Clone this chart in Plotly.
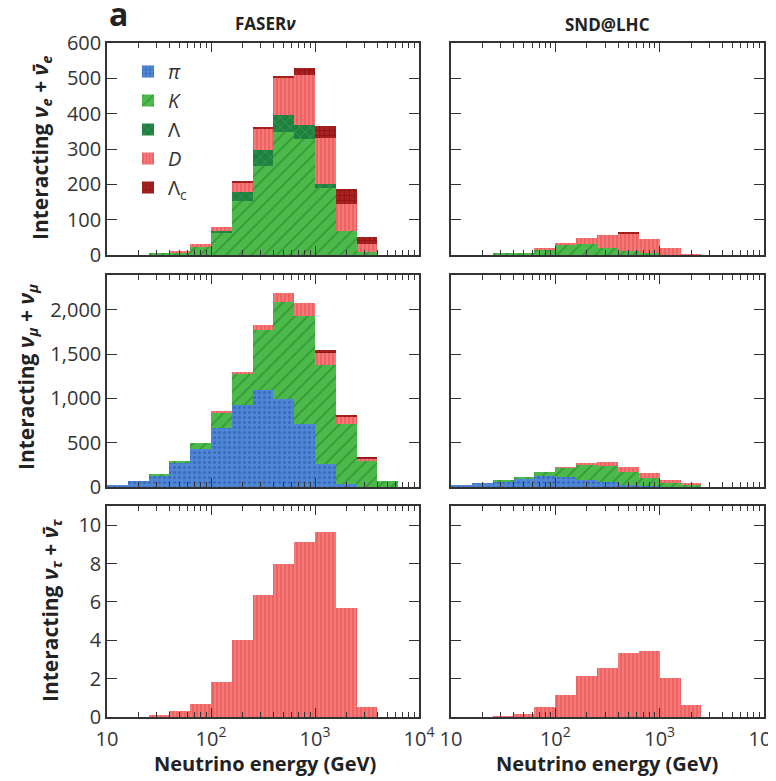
import plotly.graph_objects as go

# ---------------- data ----------------
energy_edges = [10, 15.85, 25.12, 39.81, 63.10, 100, 158.5, 251.2, 398.1, 631.0,
                1000, 1585, 2512, 3981, 6310, 10000]

# FASERnu, nu_e + nubar_e (per-bin counts of each parent)
faser_e_pi = [0, 0, 0, 0, 0, 0, 0, 0, 0, 0, 0, 0, 0, 0, 0]
faser_e_K = [0, 0, 3, 8, 24, 62, 153, 252, 349, 328, 190, 69, 9, 0, 0]
faser_e_L = [0, 0, 0, 0, 0, 6, 26, 46, 47, 40, 11, 0, 0, 0, 0]
faser_e_D = [0, 0, 0, 2, 6, 12, 27, 60, 104, 142, 131, 75, 21, 0, 0]
faser_e_Lc = [0, 0, 0, 0, 0, 0, 1, 2, 6, 20, 33, 43, 20, 0, 0]

# FASERnu, nu_mu + nubar_mu
faser_mu_pi = [26, 72, 132, 272, 434, 672, 928, 1091, 989, 709, 260, 38, 0, 0, 0]
faser_mu_K = [0, 0, 8, 11, 64, 169, 347, 683, 1098, 1223, 1117, 679, 302, 64, 0]
faser_mu_L = [0, 0, 0, 0, 0, 0, 0, 0, 0, 0, 0, 0, 0, 0, 0]
faser_mu_D = [0, 0, 0, 0, 0, 12, 27, 52, 109, 147, 140, 83, 16, 0, 0]
faser_mu_Lc = [0, 0, 0, 0, 0, 0, 0, 0, 0, 0, 26, 19, 16, 0, 0]

# FASERnu, nu_tau + nubar_tau
faser_tau_D = [0, 0, 0.07, 0.29, 0.69, 1.82, 4.02, 6.38, 7.97, 9.13, 9.64, 5.67, 0.5, 0, 0]

# SND@LHC, nu_e + nubar_e
snd_e_pi = [0, 0, 0, 0, 0, 0, 0, 0, 0, 0, 0, 0, 0, 0, 0]
snd_e_K = [0, 0, 3, 6, 16, 30, 30, 20, 12, 5, 0, 0, 0, 0, 0]
snd_e_L = [0, 0, 0, 0, 0, 0, 0, 0, 0, 0, 0, 0, 0, 0, 0]
snd_e_D = [0, 0, 0, 0, 3, 4, 18, 38, 50, 41, 21, 2, 0, 0, 0]
snd_e_Lc = [0, 0, 0, 0, 0, 0, 0, 0, 1, 0, 0, 0, 0, 0, 0]

# SND@LHC, nu_mu + nubar_mu
snd_mu_pi = [13, 40, 62, 95, 125, 110, 80, 52, 25, 15, 3, 0, 0, 0, 0]
snd_mu_K = [0, 0, 12, 20, 49, 110, 170, 188, 147, 90, 53, 30, 0, 0, 0]
snd_mu_L = [0, 0, 0, 0, 0, 0, 0, 0, 0, 0, 0, 0, 0, 0, 0]
snd_mu_D = [0, 0, 0, 0, 0, 4, 25, 40, 53, 53, 19, 8, 0, 0, 0]
snd_mu_Lc = [0, 0, 0, 0, 0, 0, 0, 0, 0, 0, 0, 0, 0, 0, 0]

# SND@LHC, nu_tau + nubar_tau
snd_tau_D = [0, 0, 0.03, 0.17, 0.5, 1.16, 2.15, 2.53, 3.34, 3.45, 2.03, 0.61, 0, 0, 0]

species_names = ["<i>π</i>", "<i>K</i>", "Λ", "<i>D</i>", "Λ<sub>c</sub>"]

x_tickvals = [10, 100, 1000, 10000]
x_ticktext = ["10", "10<sup>2</sup>", "10<sup>3</sup>", "10<sup>4</sup>"]
x_minor = [20, 30, 40, 50, 60, 70, 80, 90, 200, 300, 400, 500, 600, 700, 800, 900,
           2000, 3000, 4000, 5000, 6000, 7000, 8000, 9000]

row_yticks = [[0, 100, 200, 300, 400, 500, 600],
              [0, 500, 1000, 1500, 2000],
              [0, 2, 4, 6, 8, 10]]
row_yticktext = [["0", "100", "200", "300", "400", "500", "600"],
                 ["0", "500", "1,000", "1,500", "2,000"],
                 ["0", "2", "4", "6", "8", "10"]]
row_yrange = [[0, 600], [0, 2395], [0, 11.0]]

# ---------------- styles ----------------
FONT = "Open Sans"
AX = "#333333"
styles = [
    dict(color="#4f86d6", fg="#1f4fa0", shape=".", size=5, sol=0.3),    # pi
    dict(color="#4cba4a", fg="#1f6f25", shape="/", size=9, sol=0.18),   # K
    dict(color="#1f8040", fg="#5cbf6a", shape="x", size=7, sol=0.18),   # Lambda
    dict(color="#f47a7a", fg="#e52a32", shape="|", size=4, sol=0.3),    # D
    dict(color="#a82020", fg="#6e0a0c", shape="+", size=5, sol=0.3),    # Lambda_c
]

lefts = energy_edges[:-1]
widths = [energy_edges[i + 1] - energy_edges[i] for i in range(len(lefts))]

fig = go.Figure()

panels = [
    (1, [faser_e_pi, faser_e_K, faser_e_L, faser_e_D, faser_e_Lc], True),
    (2, [snd_e_pi, snd_e_K, snd_e_L, snd_e_D, snd_e_Lc], False),
    (3, [faser_mu_pi, faser_mu_K, faser_mu_L, faser_mu_D, faser_mu_Lc], False),
    (4, [snd_mu_pi, snd_mu_K, snd_mu_L, snd_mu_D, snd_mu_Lc], False),
    (5, [None, None, None, faser_tau_D, None], False),
    (6, [None, None, None, snd_tau_D, None], False),
]

for idx, series, legend in panels:
    for s, vals in enumerate(series):
        if vals is None:
            continue
        st = styles[s]
        fig.add_trace(go.Bar(
            x=lefts, y=vals, width=widths, offset=0,
            name=species_names[s], showlegend=legend, legendgroup=species_names[s],
            xaxis="x" if idx == 1 else f"x{idx}", yaxis="y" if idx == 1 else f"y{idx}",
            marker=dict(color=st["color"], line=dict(width=0),
                        pattern=dict(shape=st["shape"], fgcolor=st["fg"], bgcolor=st["color"],
                                     size=st["size"], solidity=st["sol"])),
        ))

# page body has an 8 px margin: draw a 768x773 figure so it fills the 776x781 window
OFF = 8
W, H = 768, 773
def px(X):
    return (X - OFF) / W
def py(Y):
    return 1 - (Y - OFF) / H

xdom = [[px(107), px(419)], [px(451), px(764)]]
ydom = [[py(255), py(43)], [py(487), py(275)], [py(717), py(506)]]

layout = dict(
    width=W, height=H, margin=dict(l=0, r=0, t=0, b=0, autoexpand=False),
    paper_bgcolor="white", plot_bgcolor="white",
    barmode="stack", bargap=0,
    font=dict(family=FONT, color=AX, size=20),
    legend=dict(x=px(128), y=py(52), xanchor="left", yanchor="top",
                bgcolor="rgba(0,0,0,0)", traceorder="normal",
                font=dict(size=20, family=FONT, color=AX), itemwidth=30),
)

for r in range(3):
    for c in range(2):
        idx = r * 2 + c + 1
        xk = "xaxis" if idx == 1 else f"xaxis{idx}"
        yk = "yaxis" if idx == 1 else f"yaxis{idx}"
        layout[xk] = dict(
            type="log", range=[1, 4], domain=xdom[c], automargin=False,
            anchor="y" if idx == 1 else f"y{idx}",
            showline=True, linecolor=AX, linewidth=1.5, mirror="ticks",
            ticks="inside", ticklen=9, tickwidth=1.3, tickcolor=AX,
            tickmode="array", tickvals=x_tickvals, ticktext=x_ticktext,
            showticklabels=(r == 2), tickfont=dict(size=20, family=FONT, color=AX),
            ticklabelstandoff=3, ticklabeloverflow="allow",
            showgrid=False, zeroline=False,
            minor=dict(tickmode="array", tickvals=x_minor, ticks="inside",
                       ticklen=5, tickwidth=1.2, tickcolor=AX, showgrid=False),
        )
        layout[yk] = dict(
            range=row_yrange[r], domain=ydom[r], automargin=False,
            anchor="x" if idx == 1 else f"x{idx}",
            showline=True, linecolor=AX, linewidth=1.5, mirror="ticks",
            ticks="inside", ticklen=10, tickwidth=1.3, tickcolor=AX,
            tickmode="array", tickvals=row_yticks[r], ticktext=row_yticktext[r],
            showticklabels=(c == 0), tickfont=dict(size=20, family=FONT, color=AX),
            ticklabelstandoff=0, ticklabeloverflow="allow",
            showgrid=False, zeroline=False,
        )

fig.update_layout(**layout)

ann = []
def add_ann(text, x, y, size, angle=0):
    ann.append(dict(text=text, x=px(x), y=py(y), xref="paper", yref="paper",
                    showarrow=False, xanchor="center", yanchor="middle", textangle=angle,
                    font=dict(size=size, family=FONT, color="#222222")))

add_ann("<b>a</b>", 118, 14, 32)
add_ann("<b>FASER<i>ν</i></b>", 265, 23, 17)
add_ann("<b>SND@LHC</b>", 607, 24, 17)
add_ann("<b>Neutrino energy (GeV)</b>", 265, 763, 20)
add_ann("<b>Neutrino energy (GeV)</b>", 607, 763, 20)
add_ann("<b>Interacting <i>ν</i><sub><i>e</i></sub> + <i>ν̄</i><sub><i>e</i></sub></b>", 41, 148, 21, -90)
add_ann("<b>Interacting <i>ν</i><sub><i>μ</i></sub> + <i>ν</i><sub><i>μ</i></sub></b>", 27, 377, 21, -90)
add_ann("<b>Interacting <i>ν</i><sub><i>τ</i></sub> + <i>ν̄</i><sub><i>τ</i></sub></b>", 51, 611, 21, -90)
fig.update_layout(annotations=ann)

fig.write_html("out.html")
